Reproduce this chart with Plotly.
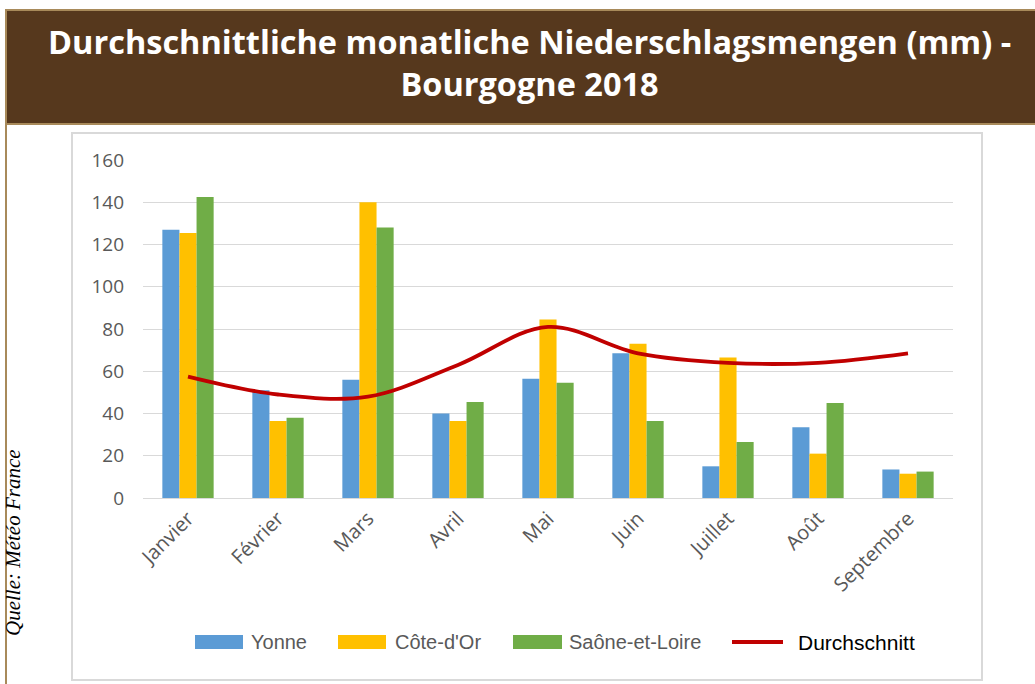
import plotly.graph_objects as go

months = ["Janvier", "Février", "Mars", "Avril", "Mai", "Juin", "Juillet", "Août", "Septembre"]
yonne = [127, 51, 56, 40, 56.5, 68.5, 15, 33.5, 13.5]
cote_dor = [125.5, 36.5, 140, 36.5, 84.5, 73, 66.5, 21, 11.5]
saone = [142.5, 38, 128, 45.5, 54.5, 36.5, 26.5, 45, 12.5]
durchschnitt = [57.5, 49, 48, 63, 81, 68.5, 64, 64, 68.5]
y_ticks = [0, 20, 40, 60, 80, 100, 120, 140, 160]

series_names = ["Yonne", "Côte-d'Or", "Saône-et-Loire", "Durchschnitt"]
series_colors = ["#5B9BD5", "#FFC000", "#70AD47", "#C00000"]

W, H = 1035, 684
PL, PR, PT, PB = 143, 953, 160, 498


def px(x):
    return (x - PL) / (PR - PL)


def py(y):
    return (PB - y) / (PB - PT)


fig = go.Figure()
for name, vals, col in zip(series_names[:3], [yonne, cote_dor, saone], series_colors[:3]):
    fig.add_trace(go.Bar(x=months, y=vals, name=name, marker=dict(color=col, line=dict(width=0))))
fig.add_trace(go.Scatter(x=months, y=durchschnitt, name=series_names[3], mode="lines",
                         line=dict(color=series_colors[3], width=3.8, shape="spline", smoothing=1.0)))

shapes = [
    dict(type="rect", xref="paper", yref="paper", x0=px(72), x1=px(982), y0=py(680), y1=py(133),
         line=dict(color="#D9D9D9", width=2), fillcolor="rgba(0,0,0,0)", layer="below"),
    dict(type="line", xref="paper", yref="paper", x0=px(6), x1=px(6), y0=py(690), y1=py(10),
         line=dict(color="#A88A5A", width=2)),
    dict(type="rect", xref="paper", yref="paper", x0=px(6), x1=px(1045), y0=py(124), y1=py(10),
         line=dict(color="#A88A5A", width=2), fillcolor="#56381D"),
]

annotations = [
    dict(text="Durchschnittliche monatliche Niederschlagsmengen (mm) -<br>Bourgogne 2018",
         xref="paper", yref="paper", x=px(529), y=py(63), xanchor="center", yanchor="middle",
         showarrow=False, font=dict(family="Open Sans", size=32.5, color="white", weight="bold"),
         align="center"),
    dict(text="<i>Quelle: Météo France</i>", xref="paper", yref="paper", x=px(13), y=py(543),
         xanchor="center", yanchor="middle", textangle=-90, showarrow=False,
         font=dict(family="Liberation Serif", size=21, color="#000000")),
]

# custom legend (wide swatches like the reference)
legend_items = [
    (series_names[0], series_colors[0], 195, 243, 249),
    (series_names[1], series_colors[1], 338, 386, 393),
    (series_names[2], series_colors[2], 513, 562, 567),
]
LY = 642
for name, col, x0, x1, tx in legend_items:
    shapes.append(dict(type="rect", xref="paper", yref="paper", x0=px(x0), x1=px(x1),
                       y0=py(LY + 7), y1=py(LY - 7), line=dict(width=0), fillcolor=col))
    annotations.append(dict(text=name, xref="paper", yref="paper", x=px(tx), y=py(LY),
                            xanchor="left", yanchor="middle", showarrow=False,
                            font=dict(family="Liberation Sans Narrow, Liberation Sans", size=20,
                                      color="#595959")))
shapes.append(dict(type="line", xref="paper", yref="paper", x0=px(732), x1=px(783),
                   y0=py(LY), y1=py(LY), line=dict(color=series_colors[3], width=4)))
annotations.append(dict(text=series_names[3], xref="paper", yref="paper", x=px(796), y=py(LY),
                        xanchor="left", yanchor="middle", showarrow=False,
                        font=dict(family="Liberation Sans", size=21, color="#000000")))

fig.update_layout(
    width=W, height=H,
    margin=dict(l=PL, r=W - PR, t=PT, b=H - PB),
    paper_bgcolor="white", plot_bgcolor="white",
    barmode="group", bargap=0.43, bargroupgap=0,
    shapes=shapes, annotations=annotations,
    showlegend=False,
    xaxis=dict(tickangle=-45, tickfont=dict(family="Open Sans", size=20, color="#595959"),
               showline=False, showgrid=False, ticks="", ticklabelstandoff=4),
    yaxis=dict(range=[0, 160], tickvals=y_ticks, showgrid=True, gridcolor="#D9D9D9", gridwidth=1,
               zeroline=True, zerolinecolor="#D9D9D9", zerolinewidth=1,
               tickfont=dict(family="Open Sans", size=19, color="#595959"), ticks="",
               ticklabelstandoff=18),
)

fig.write_html("out.html", config={"displayModeBar": False},
               post_script="document.body.style.margin='0';")
